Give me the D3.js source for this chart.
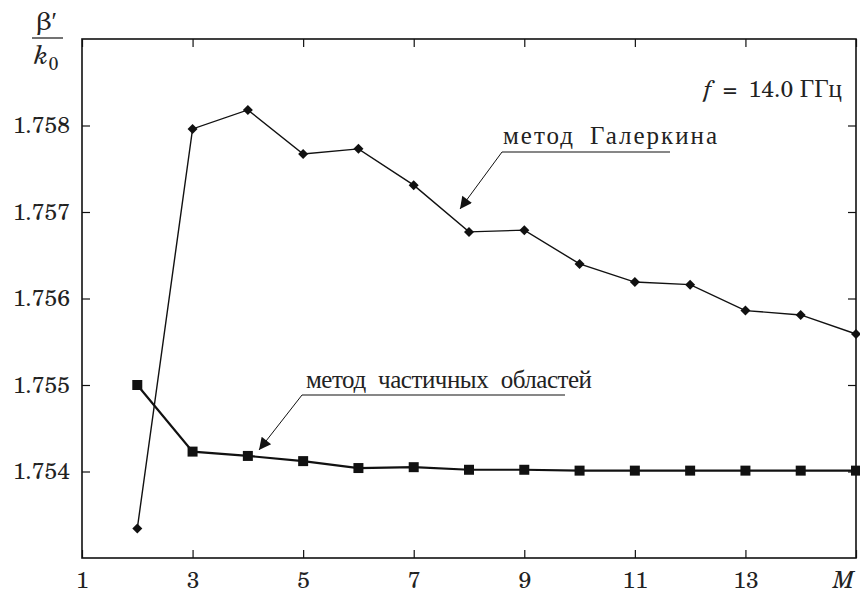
<!DOCTYPE html>
<html>
<head>
<meta charset="utf-8">
<script src="https://cdn.jsdelivr.net/npm/d3@7"></script>
<style>
  body { margin: 0; background: #fff; }
  svg text { fill: #222; }
</style>
</head>
<body>
<div id="chart"></div>
<script>
const mValues = [2, 3, 4, 5, 6, 7, 8, 9, 10, 11, 12, 13, 14, 15];
const galerkin = [1.75334, 1.75796, 1.75818, 1.75767, 1.75773, 1.75731, 1.75677,
                  1.75679, 1.75640, 1.75619, 1.75616, 1.75586, 1.75581, 1.75559];
const partial = [1.75500, 1.75423, 1.75418, 1.75412, 1.75404, 1.75405, 1.75402,
                 1.75402, 1.75401, 1.75401, 1.75401, 1.75401, 1.75401, 1.75401];
const xTicks = [1, 3, 5, 7, 9, 11, 13, 15];
const yTicks = [1.754, 1.755, 1.756, 1.757, 1.758];

const width = 860, height = 595, margin = { top: 39, right: 4, bottom: 37, left: 82 };
const serif = "'Century Schoolbook L', 'TeX Gyre Schola', C059, 'Liberation Serif', 'DejaVu Serif', serif";

const svg = d3.select("#chart")
  .append("svg")
  .attr("width", width)
  .attr("height", height);

const x = d3.scaleLinear()
  .domain([1, 15])
  .range([margin.left, width - margin.right]);

const y = d3.scaleLinear()
  .domain([1.753, 1.759])
  .range([height - margin.bottom, margin.top]);

const fontSize = 23;

// axes with inward ticks
const gx = svg.append("g")
  .attr("transform", `translate(0,${height - margin.bottom})`)
  .call(d3.axisBottom(x).tickValues(xTicks).tickSizeInner(-8).tickSizeOuter(0).tickPadding(14)
    .tickFormat(d => d === 15 ? "M" : d));
gx.selectAll("text")
  .style("font-style", d => d === 15 ? "italic" : null)
  .attr("dx", d => d === 15 ? -13 : 0);

svg.append("g")
  .attr("transform", `translate(0,${margin.top})`)
  .call(d3.axisTop(x).tickValues(xTicks).tickSizeInner(-8).tickSizeOuter(0).tickFormat(""));

svg.append("g")
  .attr("transform", `translate(${margin.left},0)`)
  .call(d3.axisLeft(y).tickValues(yTicks).tickSizeInner(-8).tickSizeOuter(0).tickPadding(12)
    .tickFormat(d3.format(".3f")));

svg.append("g")
  .attr("transform", `translate(${width - margin.right},0)`)
  .call(d3.axisRight(y).tickValues(yTicks).tickSizeInner(-8).tickSizeOuter(0).tickFormat(""));

svg.selectAll("g").attr("font-family", serif).attr("font-size", fontSize);
svg.selectAll(".domain").remove();
svg.selectAll(".tick line").attr("stroke", "#111").attr("stroke-width", 1.2);
svg.selectAll(".tick text").attr("fill", "#222");

// frame
svg.append("rect")
  .attr("x", margin.left)
  .attr("y", margin.top)
  .attr("width", width - margin.left - margin.right)
  .attr("height", height - margin.top - margin.bottom)
  .attr("fill", "none")
  .attr("stroke", "#111")
  .attr("stroke-width", 1.6);

const galData = mValues.map((m, i) => ({ m, v: galerkin[i] }));
const parData = mValues.map((m, i) => ({ m, v: partial[i] }));

const line = d3.line()
  .x(d => x(d.m))
  .y(d => y(d.v));

svg.append("path")
  .datum(galData)
  .attr("fill", "none")
  .attr("stroke", "#111")
  .attr("stroke-width", 1.4)
  .attr("d", line);

svg.append("path")
  .datum(parData)
  .attr("fill", "none")
  .attr("stroke", "#111")
  .attr("stroke-width", 2.2)
  .attr("d", line);

svg.selectAll(".diamond")
  .data(galData)
  .join("path")
  .attr("class", "diamond")
  .attr("transform", d => `translate(${x(d.m)},${y(d.v)}) rotate(45)`)
  .attr("d", d3.symbol(d3.symbolSquare, 50))
  .attr("fill", "#111");

svg.selectAll(".square")
  .data(parData)
  .join("path")
  .attr("class", "square")
  .attr("transform", d => `translate(${x(d.m)},${y(d.v)})`)
  .attr("d", d3.symbol(d3.symbolSquare, 100))
  .attr("fill", "#111");

// arrow marker
svg.append("defs").append("marker")
  .attr("id", "arr")
  .attr("viewBox", "0 0 10 10")
  .attr("refX", 10).attr("refY", 5)
  .attr("markerWidth", 20).attr("markerHeight", 12)
  .attr("markerUnits", "userSpaceOnUse")
  .attr("orient", "auto")
  .append("path")
  .attr("d", "M0,0 L10,5 L0,10 z")
  .attr("fill", "#111");

function label(txt, tx, ty, len, lineX1, lineX2, lineY, tipX, tipY) {
  svg.append("text")
    .attr("x", tx).attr("y", ty)
    .attr("font-family", serif)
    .attr("textLength", len)
    .attr("lengthAdjust", "spacing")
    .style("font-size", "25px")
    .style("word-spacing", "6px")
    .text(txt);
  svg.append("line")
    .attr("x1", lineX1).attr("x2", lineX2)
    .attr("y1", lineY).attr("y2", lineY)
    .attr("stroke", "#111").attr("stroke-width", 1.2);
  svg.append("line")
    .attr("x1", lineX1).attr("y1", lineY)
    .attr("x2", tipX).attr("y2", tipY)
    .attr("stroke", "#111").attr("stroke-width", 1)
    .attr("marker-end", "url(#arr)");
}

label("метод Галеркина", 503, 144, 214, 502, 670, 152, 460, 209);
label("метод частичных областей", 306, 388, 286, 302, 565, 395, 259, 450);

// frequency note
const fText = svg.append("text")
  .attr("x", 842).attr("y", 97)
  .attr("text-anchor", "end")
  .attr("font-family", serif)
  .style("font-size", fontSize + "px");
fText.append("tspan").style("font-style", "italic").text("f");
fText.append("tspan").text("\u2002=\u200214.0 ");
fText.append("tspan").style("font-size", "25px").text("ГГц");

// y-axis label as a fraction
svg.append("text")
  .attr("x", 47).attr("y", 30)
  .attr("text-anchor", "middle")
  .attr("font-family", serif)
  .style("font-size", "25px")
  .text("β′");
svg.append("line")
  .attr("x1", 32).attr("x2", 63)
  .attr("y1", 38).attr("y2", 38)
  .attr("stroke", "#444").attr("stroke-width", 1.5);
const kText = svg.append("text")
  .attr("x", 34).attr("y", 64)
  .attr("font-family", serif)
  .style("font-size", "26px");
kText.append("tspan").style("font-style", "italic").text("k");
kText.append("tspan").attr("dy", 6).style("font-size", "18px").text("0");
</script>
</body>
</html>
